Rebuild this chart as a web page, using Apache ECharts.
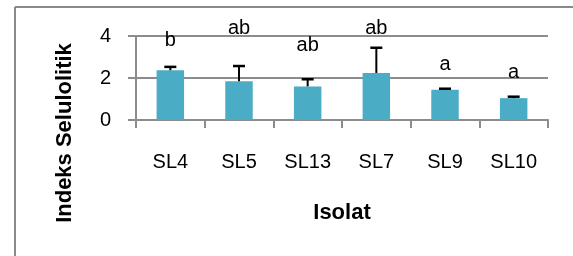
<!DOCTYPE html>
<html>
<head>
<meta charset="utf-8">
<script src="https://cdn.jsdelivr.net/npm/echarts@6/dist/echarts.min.js"></script>
<style>
html,body{margin:0;padding:0;background:#fff;}
#c{width:573px;height:256px;}
</style>
</head>
<body>
<div id="c"></div>
<script>
const categories = ['SL4', 'SL5', 'SL13', 'SL7', 'SL9', 'SL10'];
const means = [2.37, 1.84, 1.60, 2.24, 1.44, 1.04];
const upperErr = [2.53, 2.57, 1.94, 3.44, 1.49, 1.11];
const letters = ['b', 'ab', 'ab', 'ab', 'a', 'a'];
const letterPos = [3.8, 4.38, 3.53, 4.38, 2.66, 2.24];
const yTicks = [0, 2, 4];
const xTitle = 'Isolat';
const yTitle = 'Indeks Selulolitik';

const FONT = 'Liberation Sans';
const chart = echarts.init(document.getElementById('c'), null, {renderer: 'canvas'});
chart.setOption({
  animation: false,
  backgroundColor: '#fff',
  graphic: [
    {type: 'line', shape: {x1: 15, y1: 7, x2: 580, y2: 7}, style: {stroke: '#898989', lineWidth: 2}, silent: true},
    {type: 'line', shape: {x1: 15, y1: 7, x2: 15, y2: 260}, style: {stroke: '#898989', lineWidth: 2}, silent: true},
    {type: 'text', x: 65, y: 133, rotation: Math.PI / 2, silent: true,
      style: {text: yTitle, align: 'center', verticalAlign: 'middle',
        font: 'bold 22px "' + FONT + '"', fill: '#000'}}
  ],
  grid: {left: 136, right: 25, top: 36, bottom: 136, containLabel: false, outerBoundsMode: 'none'},
  xAxis: {
    type: 'category',
    data: categories,
    name: xTitle,
    nameLocation: 'middle',
    nameGap: 82,
    nameTextStyle: {fontFamily: FONT, fontWeight: 'bold', fontSize: 22, color: '#000'},
    axisLine: {lineStyle: {color: '#8c8c8c', width: 2}},
    axisTick: {show: true, length: 8, lineStyle: {color: '#8c8c8c', width: 2}},
    axisLabel: {fontFamily: FONT, fontSize: 20, color: '#000', margin: 32}
  },
  yAxis: {
    type: 'value',
    min: 0, max: 4, interval: 2,
    axisLine: {show: true, lineStyle: {color: '#8c8c8c', width: 2}},
    axisTick: {show: true, length: 8, lineStyle: {color: '#8c8c8c', width: 2}},
    axisLabel: {fontFamily: FONT, fontSize: 20, color: '#000', margin: 25,
      formatter: v => yTicks.includes(v) ? String(v) : ''},
    splitLine: {show: true, lineStyle: {color: '#8c8c8c', width: 2}}
  },
  series: [
    {
      type: 'bar',
      data: means,
      barWidth: '40%',
      itemStyle: {color: '#4BACC6'},
      z: 2
    },
    {
      type: 'custom',
      data: means.map((m, i) => [i, m, upperErr[i]]),
      z: 3,
      renderItem: function (params, api) {
        const i = api.value(0);
        const p0 = api.coord([i, api.value(1)]);
        const p1 = api.coord([i, api.value(2)]);
        return {
          type: 'group',
          children: [
            {type: 'line', shape: {x1: p0[0], y1: p0[1], x2: p1[0], y2: p1[1]}, style: {stroke: '#000', lineWidth: 2}},
            {type: 'line', shape: {x1: p1[0] - 6, y1: p1[1], x2: p1[0] + 6, y2: p1[1]}, style: {stroke: '#000', lineWidth: 2.5}}
          ]
        };
      }
    },
    {
      type: 'custom',
      data: letters.map((l, i) => [i, letterPos[i]]),
      z: 4,
      renderItem: function (params, api) {
        const i = api.value(0);
        const p = api.coord([i, api.value(1)]);
        return {
          type: 'text',
          style: {x: p[0], y: p[1], text: letters[params.dataIndex], align: 'center', verticalAlign: 'middle',
            font: '20px "' + FONT + '"', fill: '#000'}
        };
      }
    }
  ]
});
</script>
</body>
</html>
